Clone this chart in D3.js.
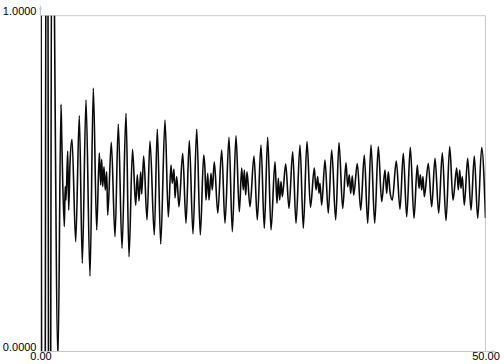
<!DOCTYPE html>
<html>
<head>
<meta charset="utf-8">
<script src="https://cdn.jsdelivr.net/npm/d3@7/dist/d3.min.js"></script>
<style>
  html, body { margin: 0; padding: 0; background: #fff; }
  svg { display: block; }
  text { font-family: "Liberation Sans", Arial, sans-serif; font-size: 11px; fill: #000; }
</style>
</head>
<body>
<svg id="chart" width="504" height="364"></svg>
<script>
// ---- data ----
const xDomain = [0, 50];
const yDomain = [0, 1];
const xTickLabels = ["0.00", "50.00"];
const yTickLabels = ["0.0000", "1.0000"];

const tValues = [
  0.000, 0.348, 0.730, 1.011, 1.292, 1.966,
  2.303, 2.393, 2.674, 2.775, 2.865, 3.056, 3.169, 3.315, 3.539, 3.955,
  4.360, 4.697, 5.112, 5.562, 5.933, 6.315, 6.607, 6.764, 6.876, 6.989,
  7.135, 7.281, 7.438, 7.551, 7.955, 8.371, 8.742, 9.157, 9.607, 9.944,
  10.337, 10.697, 10.876, 11.067, 11.258, 11.371, 11.596, 11.966, 12.303, 12.787,
  13.124, 13.506, 13.989, 14.360, 14.663, 14.809, 15.000, 15.112, 15.303, 15.562,
  15.978, 16.348, 16.719, 17.135, 17.551, 17.955, 18.337, 18.483, 18.596, 18.787,
  18.933, 19.157, 19.303, 19.528, 19.921, 20.360, 20.730, 21.180, 21.551, 21.966,
  22.337, 22.607, 22.787, 22.899, 23.056, 23.202, 23.539, 23.989, 24.360, 24.775,
  25.146, 25.528, 25.899, 26.348, 26.573, 26.719, 26.876, 27.022, 27.169, 27.551,
  27.921, 28.337, 28.708, 29.157, 29.528, 29.944, 30.337, 30.764, 30.955, 31.146,
  31.292, 31.404, 31.596, 31.966, 32.337, 32.719, 33.169, 33.539, 33.955, 34.326,
  34.517, 34.697, 34.854, 35.034, 35.191, 35.596, 35.978, 36.382, 36.764, 37.135,
  37.551, 37.955, 38.337, 38.708, 38.899, 39.079, 39.270, 39.528, 39.978, 40.393,
  40.764, 41.146, 41.551, 41.966, 42.337, 42.528, 42.674, 42.831, 42.978, 43.124,
  43.573, 43.955, 44.326, 44.742, 45.146, 45.562, 45.978, 46.348, 46.764, 46.944,
  47.101, 47.247, 47.393, 47.618, 48.000, 48.371, 48.742, 49.124, 49.573, 50.000
];

const signalValues = [
  2.5, -2.5, 2.5, -1.5, 1.6, -0.02,
  0.736, 0.630, 0.372, 0.491, 0.451, 0.597, 0.421, 0.561, 0.632, 0.327,
  0.702, 0.263, 0.749, 0.225, 0.784, 0.362, 0.591, 0.496, 0.572, 0.491,
  0.550, 0.481, 0.535, 0.406, 0.623, 0.342, 0.677, 0.307, 0.709, 0.282,
  0.602, 0.436, 0.526, 0.448, 0.535, 0.469, 0.582, 0.392, 0.627, 0.347,
  0.662, 0.320, 0.689, 0.401, 0.555, 0.501, 0.543, 0.457, 0.521, 0.431,
  0.590, 0.382, 0.628, 0.350, 0.662, 0.347, 0.585, 0.540, 0.451, 0.531,
  0.451, 0.531, 0.481, 0.565, 0.412, 0.600, 0.382, 0.638, 0.357, 0.642,
  0.416, 0.546, 0.481, 0.540, 0.466, 0.535, 0.431, 0.582, 0.392, 0.615,
  0.367, 0.638, 0.362, 0.565, 0.441, 0.516, 0.451, 0.506, 0.461, 0.558,
  0.426, 0.595, 0.382, 0.615, 0.367, 0.625, 0.430, 0.546, 0.481, 0.521,
  0.471, 0.501, 0.436, 0.570, 0.412, 0.600, 0.392, 0.622, 0.426, 0.562,
  0.491, 0.526, 0.471, 0.523, 0.466, 0.560, 0.421, 0.585, 0.382, 0.615,
  0.382, 0.610, 0.446, 0.540, 0.471, 0.535, 0.476, 0.451, 0.567, 0.424,
  0.590, 0.401, 0.608, 0.397, 0.555, 0.486, 0.526, 0.481, 0.521, 0.461,
  0.560, 0.431, 0.575, 0.412, 0.592, 0.390, 0.610, 0.451, 0.546, 0.481,
  0.540, 0.486, 0.521, 0.436, 0.575, 0.421, 0.582, 0.397, 0.607, 0.398
];

// ---- layout ----
const W = 504, H = 364;
const margin = { left: 40.5, top: 15.7, right: 18.5, bottom: 12.5 };
const x0 = margin.left, x1 = W - margin.right;
const y0 = H - margin.bottom, y1 = margin.top;

const x = d3.scaleLinear().domain(xDomain).range([x0, x1]);
const y = d3.scaleLinear().domain(yDomain).range([y0, y1]);

const svg = d3.select("#chart");
const axisColor = "#c8c8c8";

// frame (top and right)
svg.append("line").attr("x1", x0).attr("x2", x1).attr("y1", y1).attr("y2", y1)
  .attr("stroke", axisColor).attr("stroke-width", 1);
svg.append("line").attr("x1", x1).attr("x2", x1).attr("y1", y1).attr("y2", y0)
  .attr("stroke", axisColor).attr("stroke-width", 1);

// clip
svg.append("clipPath").attr("id", "plotClip")
  .append("rect").attr("x", x0).attr("y", y1).attr("width", x1 - x0).attr("height", y0 - y1);

// data line
const pts = tValues.map((t, i) => [t, signalValues[i]]);
const line = d3.line()
  .x(d => x(d[0]))
  .y(d => y(d[1]))
  .curve(d3.curveMonotoneX);

svg.append("path")
  .datum(pts)
  .attr("clip-path", "url(#plotClip)")
  .attr("fill", "none")
  .attr("stroke", "#0a0a0a")
  .attr("stroke-width", 1.6)
  .attr("stroke-linejoin", "round")
  .attr("d", line);

// axes (left and bottom) with arrow ends
svg.append("line").attr("x1", x0).attr("x2", x0).attr("y1", y0).attr("y2", y1 - 9)
  .attr("stroke", axisColor).attr("stroke-width", 1);
svg.append("path")
  .attr("d", `M${x0 - 1.5},${y1 - 6} L${x0},${y1 - 11} L${x0 + 1.5},${y1 - 6} Z`)
  .attr("fill", axisColor);
svg.append("line").attr("x1", x0).attr("x2", x1 + 9).attr("y1", y0).attr("y2", y0)
  .attr("stroke", axisColor).attr("stroke-width", 1);
svg.append("path")
  .attr("d", `M${x1 + 6},${y0 - 1.5} L${x1 + 11},${y0} L${x1 + 6},${y0 + 1.5} Z`)
  .attr("fill", axisColor);

// tick labels via axes generators
const yAxis = d3.axisLeft(y).tickValues(yDomain).tickSize(0)
  .tickFormat((d, i) => yTickLabels[i]);
const gy = svg.append("g").attr("transform", `translate(${x0},0)`).call(yAxis);
gy.select(".domain").remove();
gy.selectAll("text").attr("x", -4).attr("dy", "-0.1em")
  .style("font-family", '"Liberation Sans", Arial, sans-serif').style("font-size", "11px").attr("fill", "#000");

const xAxis = d3.axisBottom(x).tickValues(xDomain).tickSize(0)
  .tickFormat((d, i) => xTickLabels[i]);
const gx = svg.append("g").attr("transform", `translate(0,${y0})`).call(xAxis);
gx.select(".domain").remove();
gx.selectAll("text").attr("y", 1).attr("dy", "0.71em")
  .style("font-family", '"Liberation Sans", Arial, sans-serif').style("font-size", "11px").attr("fill", "#000");
</script>
</body>
</html>
